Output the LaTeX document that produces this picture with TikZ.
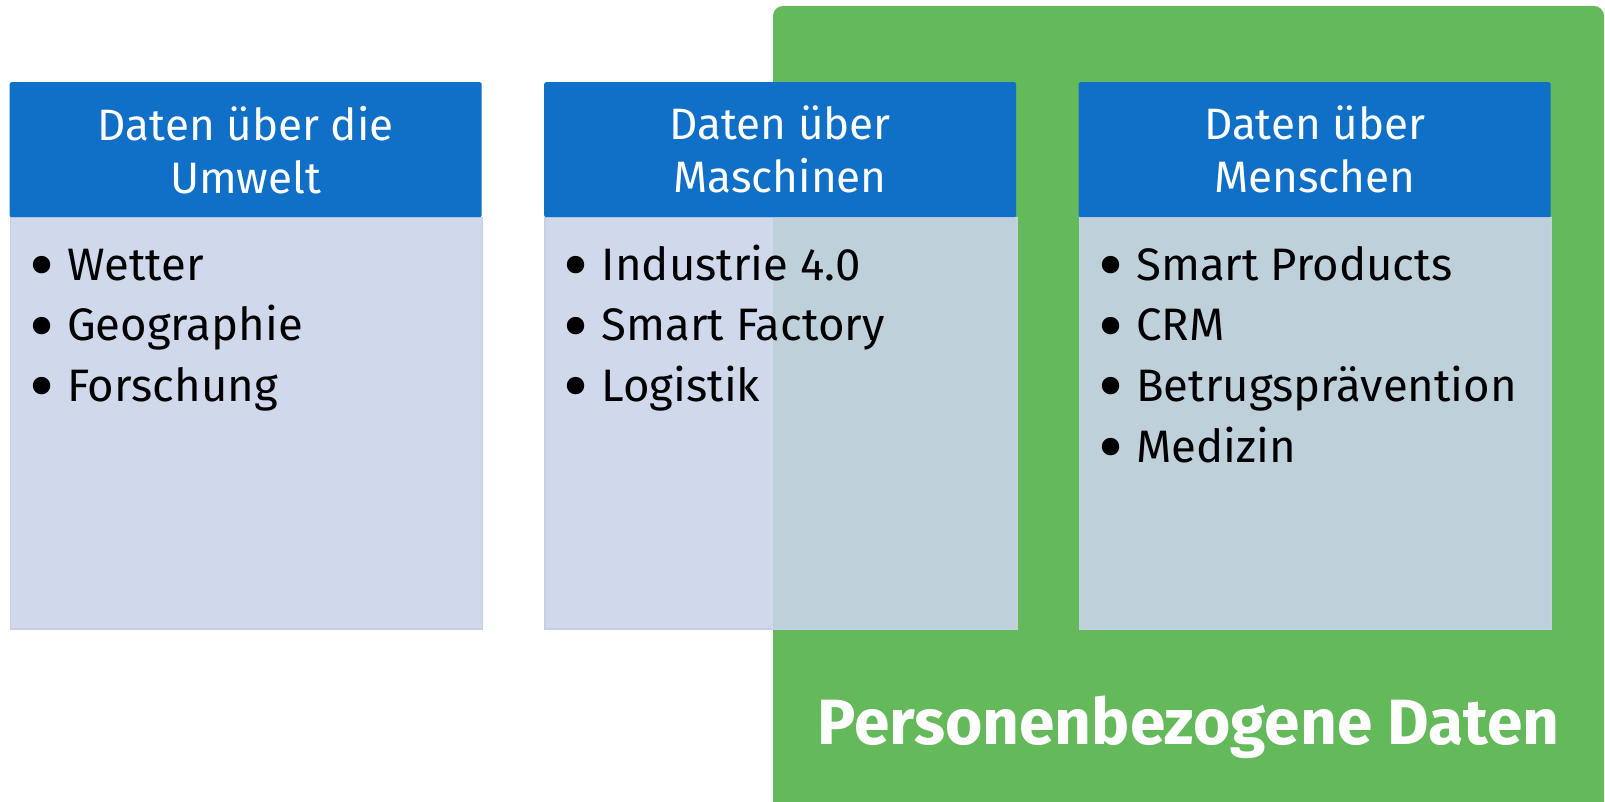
\documentclass[tikz,border=0pt]{standalone}
\usepackage{fontspec}
\setmainfont{Fira Sans}
\usetikzlibrary{positioning}

\definecolor{kopfblau}{RGB}{16,111,198}
\definecolor{rumpfblau}{RGB}{202,211,234}
\definecolor{rahmenblau}{RGB}{196,207,232}
\definecolor{personengruen}{RGB}{100,186,90}

\tikzset{
  kopf/.style={fill=kopfblau, text=white, anchor=north west, inner sep=0pt,
    minimum width=472pt, minimum height=135pt, align=center,
    rounded corners=2pt, font=\fontsize{44}{53}\selectfont},
  rumpf/.style={fill=rumpfblau, fill opacity=0.89, draw=rahmenblau,
    line width=1.5pt, anchor=north west, inner sep=0pt,
    minimum width=472pt, minimum height=411pt},
  eintrag/.style={anchor=base west, inner sep=0pt,
    font=\fontsize{45.5}{56}\selectfont},
  titel/.style={anchor=base, inner sep=0pt, text=white,
    font=\fontsize{64}{70}\selectfont\bfseries}
}
\newcommand{\punkt}{\makebox[38pt][l]{\smash{\raisebox{-0.25em}{\scalebox{1.7}{\textbullet}}}}}

\begin{document}
\begin{tikzpicture}[x=1pt,y=-1pt]
\useasboundingbox (0,0) rectangle (1605,802);
\clip (0,0) rectangle (1605,802);

% gruener Bereich
\fill[personengruen, rounded corners=10pt] (773,830) -- (773,6) -- (1604,6) -- (1604,830) -- cycle;
\node[titel] (personen) at (1188.5,744) {Personenbezogene Daten};

% Kästen
\node[rumpf] (umweltrumpf) at (9.5,217) {};
\node[rumpf] (maschinenrumpf) at (544,217) {};
\node[rumpf] (menschenrumpf) at (1078.5,217) {};
\node[kopf] (umweltkopf) at (9.5,82) {Daten über die\\Umwelt};
\node[kopf] (maschinenkopf) at (544,82) {Daten über\\Maschinen};
\node[kopf] (menschenkopf) at (1078.5,82) {Daten über\\Menschen};

% Einträge
\node[eintrag] (wetter) at (29,280) {\punkt Wetter};
\node[eintrag] (geographie) at (29,340.7) {\punkt Geographie};
\node[eintrag] (forschung) at (29,401.4) {\punkt Forschung};

\node[eintrag] (industrie) at (563.5,280) {\punkt Industrie 4.0};
\node[eintrag] (factory) at (563.5,340.7) {\punkt Smart Factory};
\node[eintrag] (logistik) at (563.5,401.4) {\punkt Logistik};

\node[eintrag] (products) at (1098,280) {\punkt Smart Products};
\node[eintrag] (crm) at (1098,340.7) {\punkt CRM};
\node[eintrag] (betrug) at (1098,401.4) {\punkt Betrugsprävention};
\node[eintrag] (medizin) at (1098,462.1) {\punkt Medizin};
\end{tikzpicture}
\end{document}
